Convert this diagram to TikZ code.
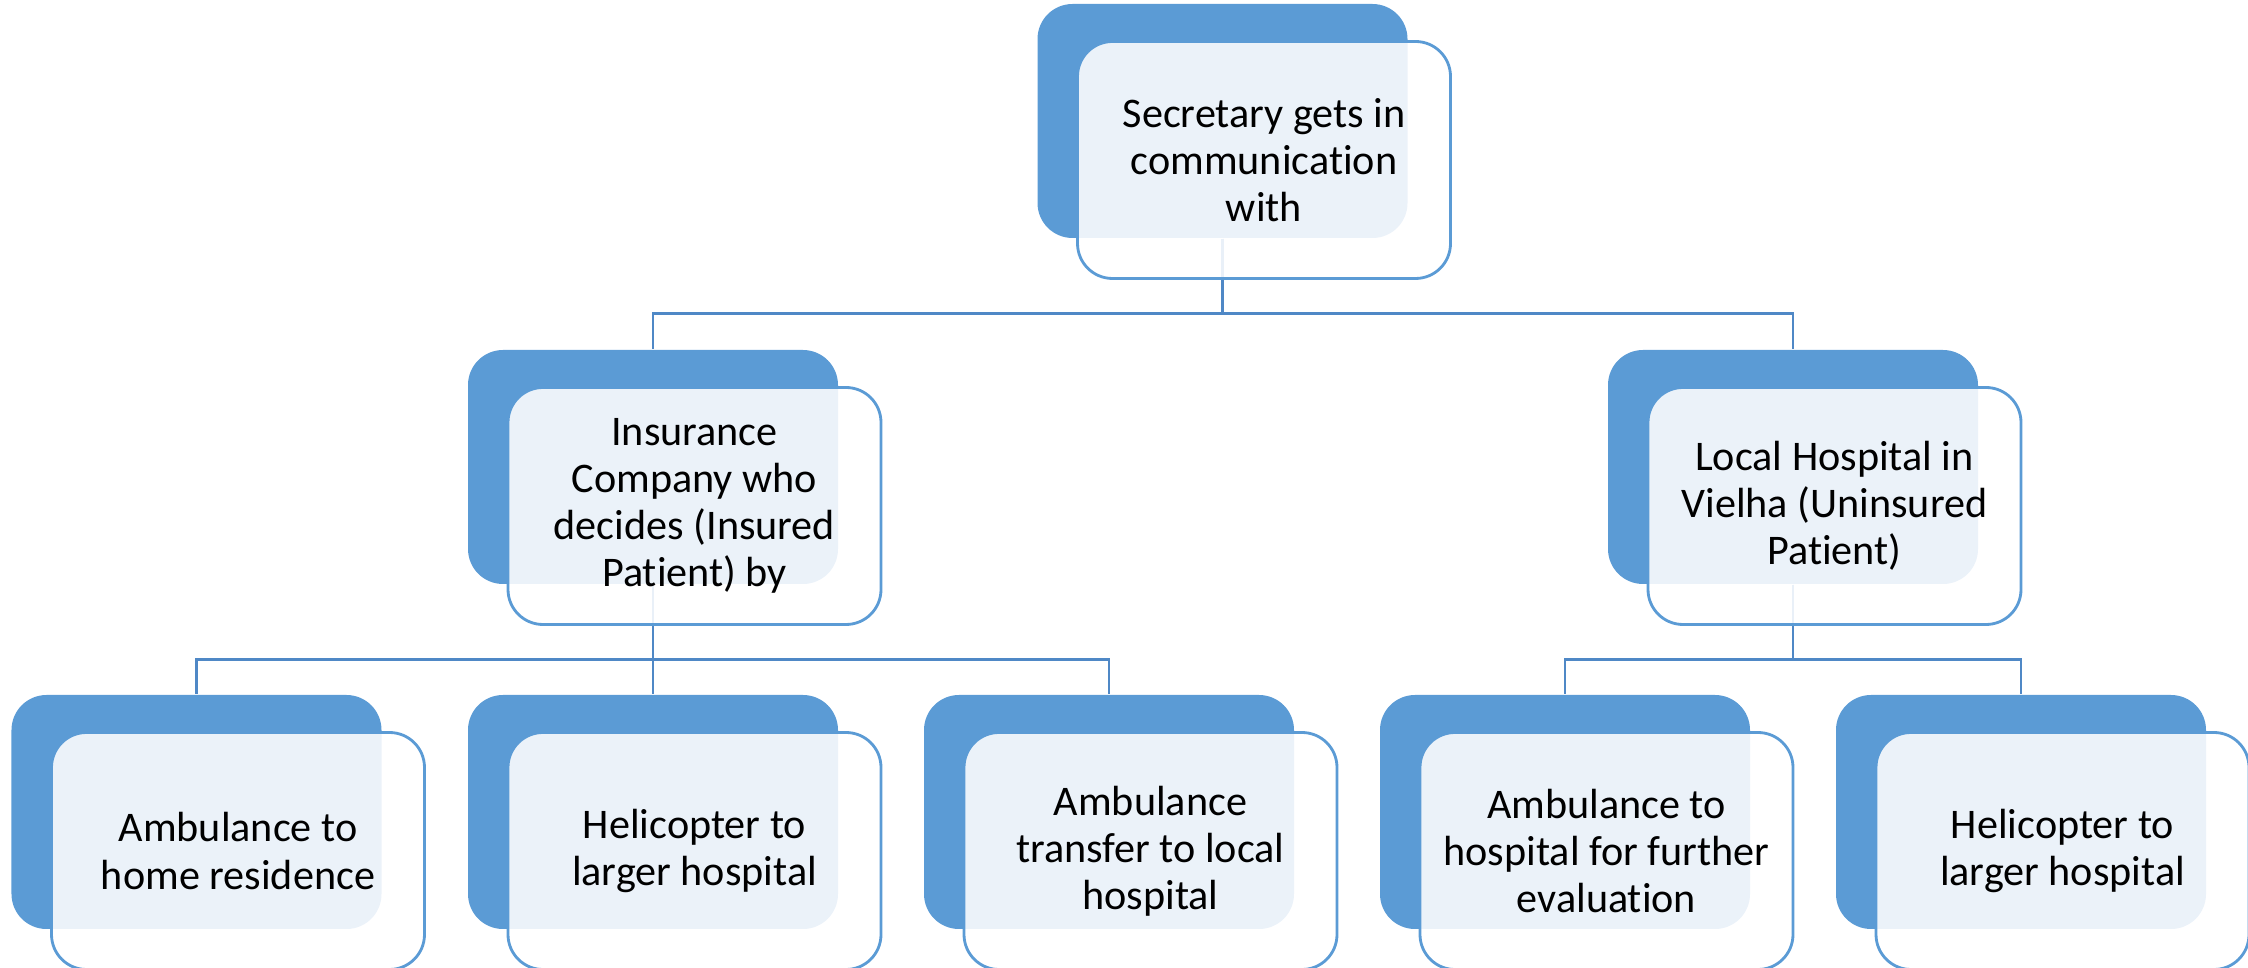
\documentclass[tikz,border=0pt]{standalone}
\usepackage{fontspec}
\setmainfont{Carlito}[Ligatures=NoCommon]
\usepackage{xcolor}
\usepackage{tikz}

\definecolor{boxblue}{HTML}{5B9BD5}
\definecolor{lineblue}{HTML}{4F88C6}

\tikzset{
  back/.style={fill=boxblue, rounded corners=0.35cm, minimum width=3.7cm, minimum height=2.34cm, inner sep=0pt},
  front/.style={draw=boxblue, line width=0.8pt, fill=white, fill opacity=0.88, text opacity=1,
    rounded corners=0.35cm, minimum width=3.73cm, minimum height=2.37cm, inner sep=0pt,
    align=center, font=\fontsize{12}{13.4}\selectfont},
  link/.style={draw=lineblue, line width=0.8pt}
}

\begin{document}
\begin{tikzpicture}
        \useasboundingbox (0, 0) rectangle (22.48, -9.68);
        % back boxes
        \node[back] (sec) at (12.225, -1.21) {};
        \node[back] (ins) at (6.53, -4.67) {};
        \node[back] (loc) at (17.93, -4.67) {};
        \node[back] (home) at (1.965, -8.12) {};
        \node[back] (heli) at (6.53, -8.12) {};
        \node[back] (trans) at (11.09, -8.12) {};
        \node[back] (eval) at (15.65, -8.12) {};
        \node[back] (heliB) at (20.21, -8.12) {};
        % connectors
        \draw[link] (sec.south) -- ++(0, -0.75) -| (ins.north);
        \draw[link] (sec.south) -- ++(0, -0.75) -| (loc.north);
        \draw[link] (ins.south) -- ++(0, -0.75) -| (home.north);
        \draw[link] (ins.south) -- (heli.north);
        \draw[link] (ins.south) -- ++(0, -0.75) -| (trans.north);
        \draw[link] (loc.south) -- ++(0, -0.75) -| (eval.north);
        \draw[link] (loc.south) -- ++(0, -0.75) -| (heliB.north);
        % front boxes
        \node[front] (secF) at (12.64, -1.60) {Secretary gets in\\communication\\with};
        \node[front] (insF) at (6.945, -5.06) {Insurance\\Company who\\decides (Insured\\Patient) by};
        \node[front] (locF) at (18.345, -5.06) {Local Hospital in\\Vielha (Uninsured\\Patient)};
        \node[front] (homeF) at (2.38, -8.51) {Ambulance to\\home residence};
        \node[front] (heliF) at (6.945, -8.51) {Helicopter to\\larger hospital};
        \node[front] (transF) at (11.505, -8.51) {Ambulance\\transfer to local\\hospital};
        \node[front] (evalF) at (16.065, -8.51) {Ambulance to\\hospital for further\\evaluation};
        \node[front] (heliBF) at (20.625, -8.51) {Helicopter to\\larger hospital};
\end{tikzpicture}
\end{document}
